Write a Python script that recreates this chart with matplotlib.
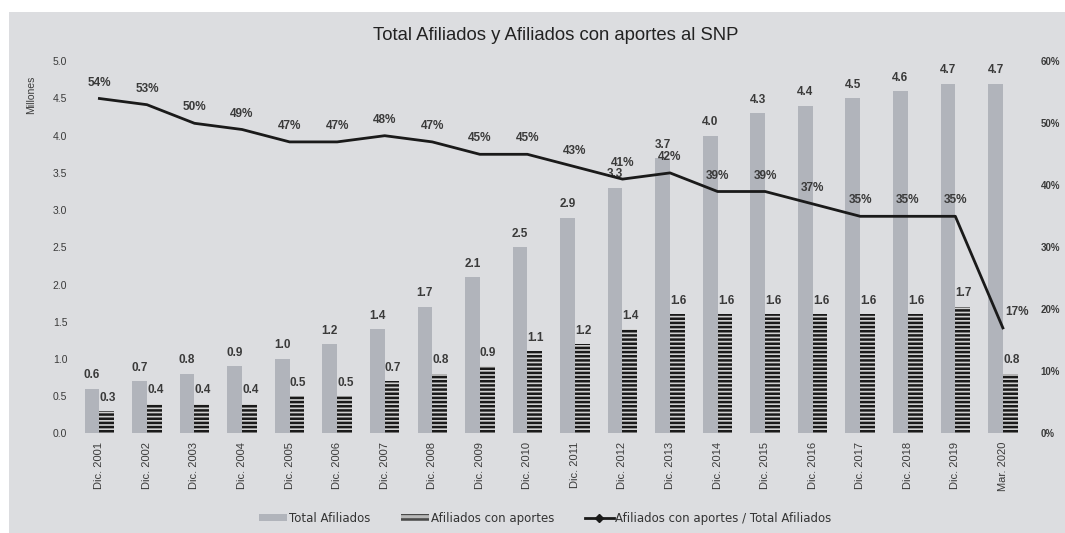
import matplotlib
matplotlib.use("Agg")
import matplotlib.pyplot as plt
from matplotlib.lines import Line2D
from matplotlib.patches import Patch, Rectangle
import numpy as np

periods = ["Dic. 2001", "Dic. 2002", "Dic. 2003", "Dic. 2004", "Dic. 2005",
           "Dic. 2006", "Dic. 2007", "Dic. 2008", "Dic. 2009", "Dic. 2010",
           "Dic. 2011", "Dic. 2012", "Dic. 2013", "Dic. 2014", "Dic. 2015",
           "Dic. 2016", "Dic. 2017", "Dic. 2018", "Dic. 2019", "Mar. 2020"]
total_afiliados = [0.6, 0.7, 0.8, 0.9, 1.0, 1.2, 1.4, 1.7, 2.1, 2.5,
                   2.9, 3.3, 3.7, 4.0, 4.3, 4.4, 4.5, 4.6, 4.7, 4.7]
con_aportes = [0.3, 0.4, 0.4, 0.4, 0.5, 0.5, 0.7, 0.8, 0.9, 1.1,
               1.2, 1.4, 1.6, 1.6, 1.6, 1.6, 1.6, 1.6, 1.7, 0.8]
ratio_pct = [54, 53, 50, 49, 47, 47, 48, 47, 45, 45,
             43, 41, 42, 39, 39, 37, 35, 35, 35, 17]

BG = "#dcdde0"
TOTAL_C = "#b1b4bb"
TEXT_C = "#3a3a3a"

plt.rcParams["font.family"] = ["Liberation Sans", "DejaVu Sans"]
plt.rcParams["hatch.linewidth"] = 1.8

fig = plt.figure(figsize=(10.65, 5.33), dpi=100, facecolor="white")
fig.patches.append(Rectangle((0.008, 0), 0.992, 0.977, transform=fig.transFigure,
                             facecolor=BG, edgecolor="none", zorder=-1))
ax = fig.add_axes([0.071, 0.187, 0.893, 0.698])
ax.set_facecolor("none")
x = np.arange(len(periods))
w = 0.31

ax.bar(x - w / 2, total_afiliados, width=w, color=TOTAL_C, lw=0)
ax.bar(x + w / 2, con_aportes, width=w, facecolor="#d2d2d2", edgecolor="#1a1a1a",
       hatch="----", lw=0)
for i in x:
    ax.text(i - w / 2, total_afiliados[i] + 0.1, f"{total_afiliados[i]:.1f}", ha="center",
            va="bottom", fontsize=8.5, fontweight="bold", color=TEXT_C)
    ax.text(i + w / 2 + 0.02, con_aportes[i] + 0.1, f"{con_aportes[i]:.1f}", ha="center",
            va="bottom", fontsize=8.5, fontweight="bold", color=TEXT_C)

ax.set_xlim(-0.5, len(periods) - 0.5)
ax.set_ylim(0, 5.0)
ax.set_yticks(np.arange(0, 5.01, 0.5))
ax.set_yticklabels([f"{v:.1f}" for v in np.arange(0, 5.01, 0.5)], fontsize=7.5, color=TEXT_C)
ax.set_xticks(x)
ax.set_xticklabels(periods, rotation=90, fontsize=8, color=TEXT_C)
ax.tick_params(length=0, pad=6)
ax.set_ylabel("Millones", fontsize=7.5, color=TEXT_C)
ax.yaxis.set_label_coords(-0.042, 0.91)
for s in ax.spines.values():
    s.set_visible(False)

ax2 = ax.twinx()
ax2.plot(x, ratio_pct, color="#1a1a1a", lw=2)
for i in x:
    dx = 0.3 if i == len(x) - 1 else 0
    ax2.text(i + dx, ratio_pct[i] + 1.6, f"{ratio_pct[i]}%", ha="center", va="bottom",
             fontsize=8.5, fontweight="bold", color=TEXT_C)
ax2.set_ylim(0, 60)
ax2.set_yticks(range(0, 61, 10))
ax2.set_yticklabels([f"{v}%" for v in range(0, 61, 10)], fontsize=7,
                    fontweight="bold", color=TEXT_C)
ax2.tick_params(length=0, pad=10)
for s in ax2.spines.values():
    s.set_visible(False)

fig.text(0.522, 0.925, "Total Afiliados y Afiliados con aportes al SNP", ha="center",
         fontsize=13.3, color="#222222")

handles = [Patch(facecolor=TOTAL_C, lw=0, label="Total Afiliados"),
           Patch(facecolor="#b8b8b8", edgecolor="#4a4a4a", hatch="---", lw=0,
                 label="Afiliados con aportes"),
           Line2D([0], [0], color="#1a1a1a", lw=2, marker="D", markersize=4,
                  label="Afiliados con aportes / Total Afiliados")]
fig.legend(handles=handles, loc="center", bbox_to_anchor=(0.512, 0.028), ncol=3,
           frameon=False, prop={"family": "DejaVu Sans", "size": 8.5},
           handlelength=2.4, handleheight=0.5, handletextpad=0.15,
           columnspacing=2.6, labelcolor="#333333")

fig.savefig("out.png", dpi=100, facecolor=fig.get_facecolor())
